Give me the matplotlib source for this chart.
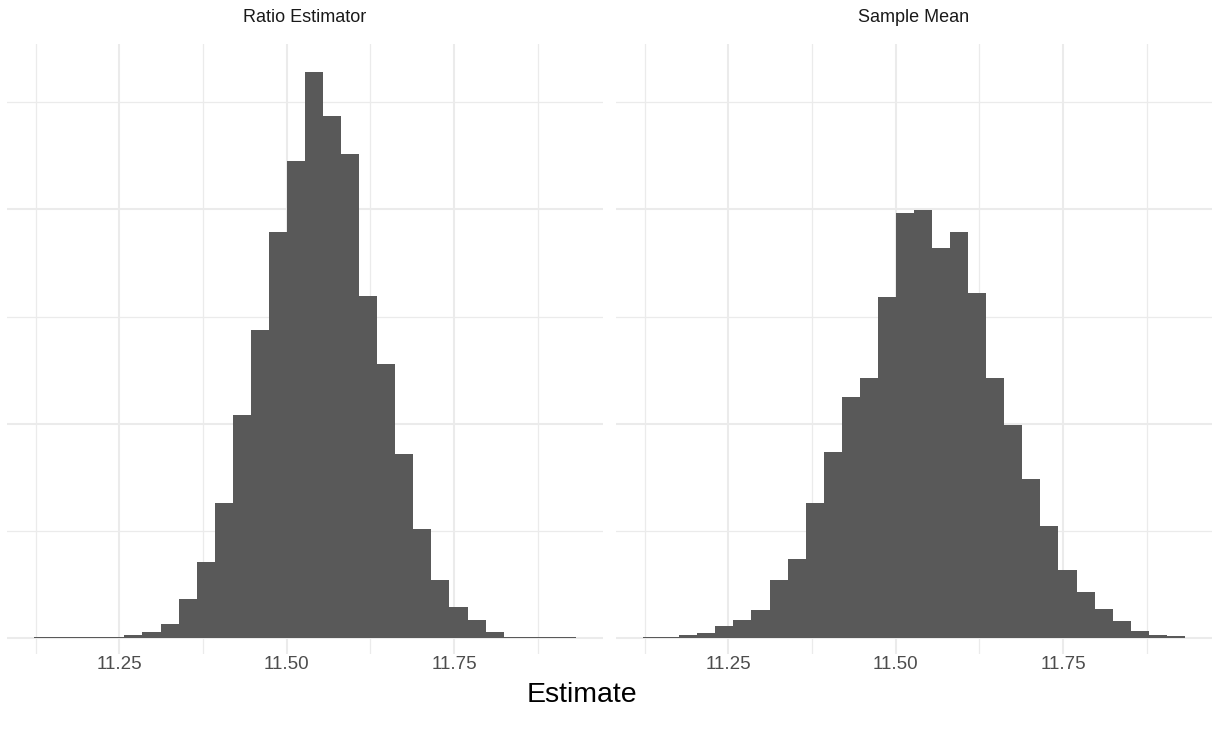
import numpy as np
import matplotlib
matplotlib.use('Agg')
from matplotlib import pyplot as plt

plt.rcParams['font.family'] = ['Liberation Sans', 'DejaVu Sans']

panels = ['Ratio Estimator', 'Sample Mean']
bin_start = 11.1225
bin_width = 0.02699
n_bins = 30

ratio_counts = [2, 2, 2, 2, 3, 7, 14, 33, 91, 177,
                315, 520, 719, 947, 1113, 1320, 1218, 1129, 798, 639,
                429, 254, 135, 72, 42, 14, 2, 2, 2, 2]
mean_counts = [2, 3, 7, 12, 28, 42, 65, 135, 184, 315,
               434, 562, 607, 796, 992, 999, 910, 947, 805, 607,
               497, 371, 261, 159, 107, 68, 40, 16, 7, 4]

x_major = [11.25, 11.50, 11.75]
x_minor = [11.125, 11.375, 11.625, 11.875]
x_labels = ['11.25', '11.50', '11.75']
y_major = [0, 500, 1000]
y_minor = [250, 750, 1250]

W, H = 1215, 737
fig = plt.figure(figsize=(W/100, H/100), dpi=100)

edges = bin_start + bin_width*np.arange(n_bins+1)
xlo = edges[0] - 0.05*(edges[-1]-edges[0])
xhi = edges[-1] + 0.05*(edges[-1]-edges[0])
ymax = max(max(ratio_counts), max(mean_counts))

###########panels###########
def panel(left, title, counts):
    top, bot = 44, 654
    ax = fig.add_axes([left/W, (H-bot)/H, 596/W, (bot-top)/H])
    ax.set_xlim(xlo, xhi)
    ax.set_ylim(-0.028*ymax, 1.05*ymax)
    for v in x_minor:
        ax.axvline(v, color='#EBEBEB', lw=0.9, zorder=0)
    for v in x_major:
        ax.axvline(v, color='#EBEBEB', lw=1.5, zorder=0)
    for v in y_minor:
        ax.axhline(v, color='#EBEBEB', lw=0.9, zorder=0)
    for v in y_major:
        ax.axhline(v, color='#EBEBEB', lw=1.5, zorder=0)
    ax.bar(edges[:-1], counts, width=np.diff(edges), align='edge',
           color='#595959', linewidth=0, zorder=2)
    ax.set_xticks(x_major)
    ax.set_xticklabels(x_labels)
    ax.set_yticks([])
    ax.tick_params(axis='x', length=0, pad=1.5, labelsize=13.5, labelcolor='#4D4D4D')
    for s in ax.spines.values():
        s.set_visible(False)
    ax.text(0.5, 1 + 26/(bot-top), title, transform=ax.transAxes,
            ha='center', va='center', fontsize=13, color='#1A1A1A')
    return ax

panel(7, panels[0], ratio_counts)
panel(616, panels[1], mean_counts)

fig.text(582/W, 1 - 695/H, 'Estimate', ha='center', va='center', fontsize=20.5)

fig.savefig('out.png', dpi=100)
